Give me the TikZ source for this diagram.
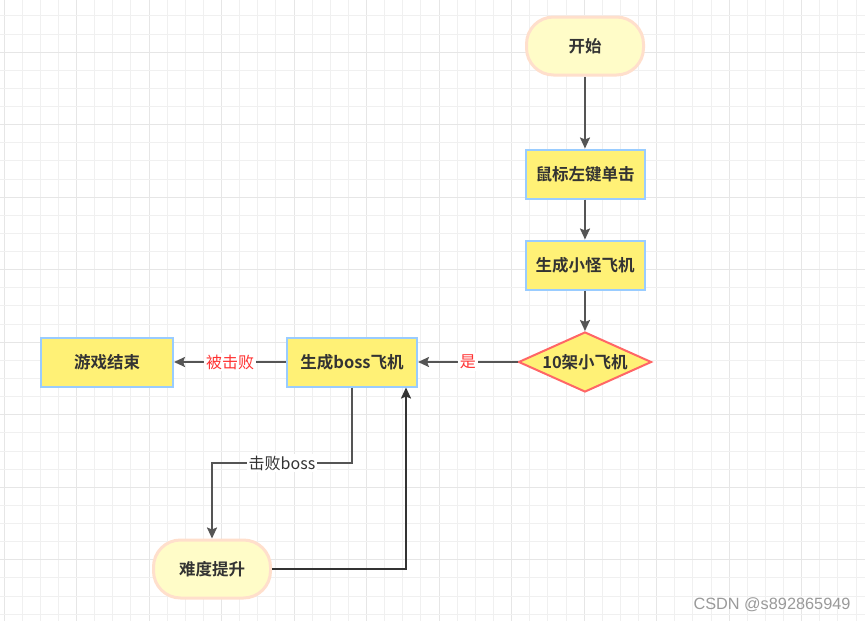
\documentclass[tikz,border=0pt]{standalone}
\usepackage{fontspec}
\setmainfont{Liberation Sans}
\newfontfamily\cjkb{Noto Sans CJK SC}[BoldFont={Noto Sans CJK SC Bold}]
\usetikzlibrary{arrows.meta,shapes.geometric}
\definecolor{gridminor}{HTML}{F0F0F0}
\definecolor{gridmajor}{HTML}{E6E6E6}
\definecolor{stfill}{HTML}{FFFCC8}
\definecolor{stborder}{HTML}{FFDFCC}
\definecolor{boxfill}{HTML}{FFF176}
\definecolor{boxborder}{HTML}{99CCFF}
\definecolor{dmborder}{HTML}{FF6666}
\definecolor{edgecol}{HTML}{555555}
\definecolor{edgedark}{HTML}{333333}
\definecolor{txt}{HTML}{333333}
\definecolor{redlab}{HTML}{FF3333}
\definecolor{wm}{HTML}{9A9A9A}
\tikzset{
  basetxt/.style={font=\cjkb\bfseries\fontsize{16.5}{19}\selectfont, text=txt, inner sep=0pt},
  stadium/.style={basetxt, draw=stborder, fill=stfill, line width=3pt, rounded corners=27pt, minimum width=117pt, minimum height=58pt},
  procbox/.style={basetxt, draw=boxborder, fill=boxfill, line width=2pt, minimum width=119pt, minimum height=49pt},
  decide/.style={basetxt, diamond, aspect=2.2, draw=dmborder, fill=boxfill, line width=2pt, minimum width=133pt, minimum height=60pt},
  conn/.style={draw=edgecol, line width=2pt, -{Stealth[length=11pt,width=10pt,inset=2pt]}},
  conndark/.style={draw=edgedark, line width=2pt, -{Stealth[length=11pt,width=10pt,inset=2pt]}},
  lab/.style={font=\cjkb\fontsize{16}{19}\selectfont, fill=white, inner sep=2pt},
}
\begin{document}
\begin{tikzpicture}[x=1pt,y=-1pt]
\useasboundingbox (0,0) rectangle (865,621);
\fill[white] (0,0) rectangle (865,621);
% grid
\foreach \i in {0,...,47} {
  \pgfmathsetmacro{\gx}{round(3.5+\i*18.13)+0.5}
  \pgfmathtruncatemacro{\gm}{mod(\i,4)}
  \ifnum\gm=0
    \draw[gridmajor, line width=1pt] (\gx,0) -- (\gx,621);
  \else
    \draw[gridminor, line width=1pt] (\gx,0) -- (\gx,621);
  \fi
}
\foreach \j in {-1,...,33} {
  \pgfmathsetmacro{\gy}{round(15.4+\j*18.13)+0.5}
  \pgfmathtruncatemacro{\gm}{mod(\j+4,4)}
  \ifnum\gm=2
    \draw[gridmajor, line width=1pt] (0,\gy) -- (865,\gy);
  \else
    \draw[gridminor, line width=1pt] (0,\gy) -- (865,\gy);
  \fi
}
% nodes
\node[stadium] (start) at (585,46) {开始};
\node[procbox] (click) at (585,174) {鼠标左键单击};
\node[procbox] (minion) at (585,265) {生成小怪飞机};
\node[decide] (ten) at (585,362) {10架小飞机};
\node[procbox, minimum width=130pt] (boss) at (352,362) {生成boss飞机};
\node[procbox, minimum width=132pt] (over) at (107,362) {游戏结束};
\node[stadium] (harder) at (212,569) {难度提升};
\node[font=\fontsize{16.3}{18}\selectfont, text=wm, inner sep=0pt] (mark) at (772,605) {CSDN @s892865949};
% connectors
\draw[conn] (start) -- (click);
\draw[conn] (click) -- (minion);
\draw[conn] (minion) -- (ten.north);
\draw[conn] (ten.west) -- node[lab, text=redlab] {是} (boss.east);
\draw[conn] (boss.west) -- node[lab, text=redlab] {被击败} (over.east);
\coordinate (k1) at (352,463);
\coordinate (k2) at (212,463);
\draw[conn] (boss.south) -- (k1) -- node[lab, text=txt] {击败boss} (k2) -- (harder.north);
\coordinate (k3) at (406,569);
\draw[conndark] (harder.east) -- (k3) -- (k3 |- boss.south);
\end{tikzpicture}
\end{document}
